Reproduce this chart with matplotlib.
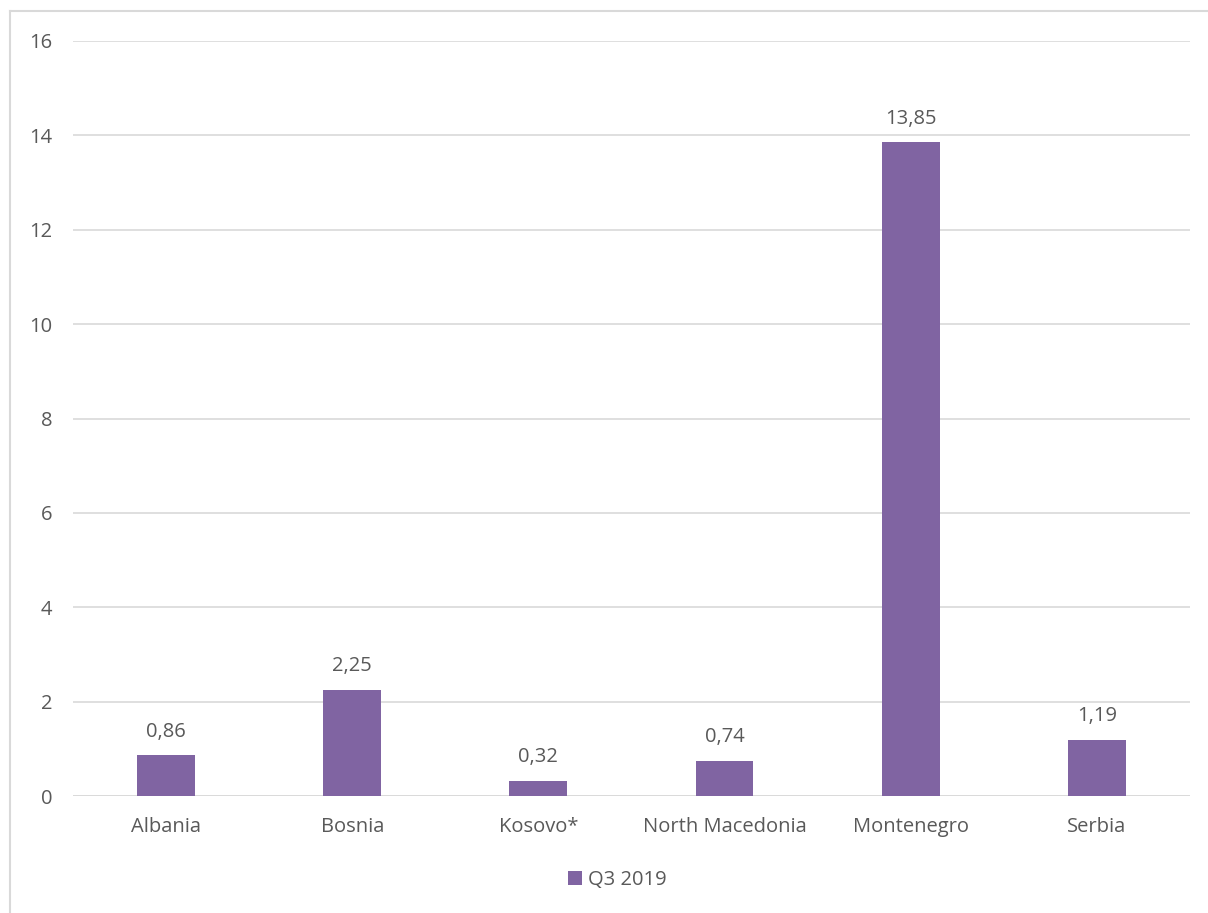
import matplotlib.pyplot as plt
from matplotlib.lines import Line2D

# data
countries = ["Albania", "Bosnia", "Kosovo*", "North Macedonia", "Montenegro", "Serbia"]
q3_2019 = [0.86, 2.25, 0.32, 0.74, 13.85, 1.19]
yticks = [0, 2, 4, 6, 8, 10, 12, 14, 16]

bar_color = "#8064A2"
text_color = "#595959"
grid_color = "#D9D9D9"

plt.rcParams['font.family'] = ['Open Sans', 'DejaVu Sans']
fs = 14.5

fig = plt.figure(figsize=(12.08, 9.13), dpi=100)
ax = fig.add_axes([0.0604, 0.1281, 0.9246, 0.8270])

x = range(len(countries))
bars = ax.bar(x, q3_2019, width=0.31, color=bar_color, zorder=3, label="Q3 2019")

for xi, v in zip(x, q3_2019):
    ax.annotate(f"{v:.2f}".replace(".", ","), (xi, v), xytext=(0, 10),
                textcoords="offset points", ha="center", va="bottom",
                fontsize=fs, color=text_color)

ax.set_xlim(-0.5, len(countries) - 0.5)
ax.set_ylim(0, 16)
ax.set_yticks(yticks)
ax.set_xticks(list(x))
ax.set_xticklabels(countries)
ax.tick_params(axis="both", length=0, labelsize=fs, labelcolor=text_color)
ax.tick_params(axis="x", pad=15)
ax.tick_params(axis="y", pad=15)
ax.grid(axis="y", color=grid_color, linewidth=1.2, zorder=0)
for s in ax.spines.values():
    s.set_visible(False)
ax.axhline(0, color=grid_color, linewidth=1.2, zorder=2)

# outer chart border (left and top visible)
fig.add_artist(Line2D([10 / 1208, 10 / 1208], [0, 1 - 11 / 913], transform=fig.transFigure,
                      color=grid_color, linewidth=1.5))
fig.add_artist(Line2D([10 / 1208, 1], [1 - 11 / 913, 1 - 11 / 913], transform=fig.transFigure,
                      color=grid_color, linewidth=1.5))

fig.legend(handles=[bars], loc="center", bbox_to_anchor=(617 / 1208, 1 - 880 / 913),
           frameon=False, fontsize=fs, labelcolor=text_color,
           handlelength=0.7, handleheight=0.7, handletextpad=0.3)

fig.savefig("out.png", dpi=100)
